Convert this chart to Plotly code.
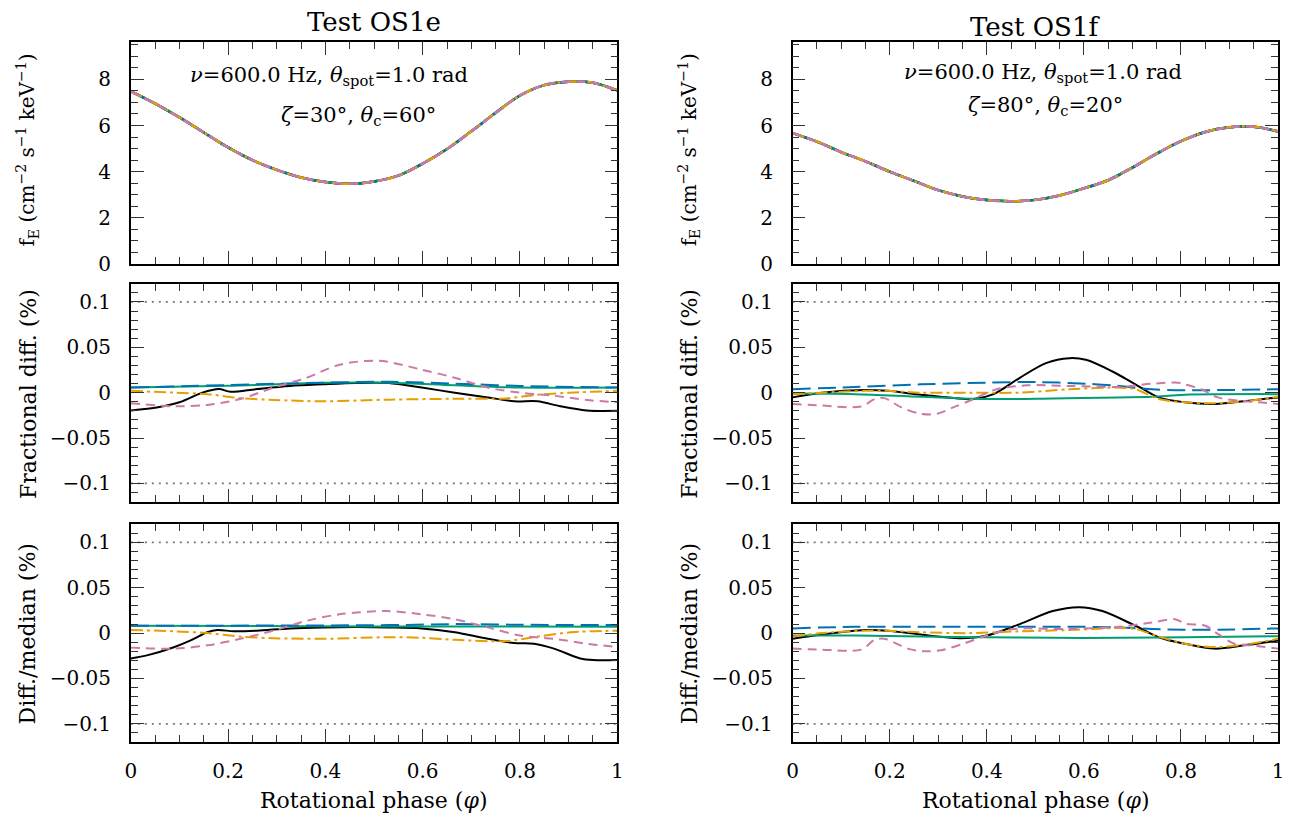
import plotly.graph_objects as go

# ---------------- data ----------------
PHASE_TOP = [0, 0.05, 0.1, 0.15, 0.2, 0.25, 0.3, 0.35, 0.4, 0.45, 0.5,
             0.55, 0.6, 0.65, 0.7, 0.75, 0.8, 0.85, 0.9, 0.95, 1.0]
FE_OS1E = [7.48, 6.95, 6.35, 5.7, 5.05, 4.5, 4.08, 3.75, 3.55, 3.48, 3.58,
           3.83, 4.35, 4.98, 5.75, 6.55, 7.3, 7.75, 7.9, 7.85, 7.52]
FE_OS1F = [5.67, 5.3, 4.85, 4.45, 4.0, 3.6, 3.2, 2.93, 2.77, 2.72, 2.78,
           2.97, 3.28, 3.63, 4.18, 4.78, 5.32, 5.72, 5.92, 5.95, 5.74]

# OS1e fractional diff (%)
E_FRAC_BLACK_X = [0, 0.056, 0.10, 0.147, 0.181, 0.205, 0.259, 0.327, 0.395, 0.463, 0.53, 0.598, 0.666, 0.734, 0.788, 0.836, 0.883, 0.937, 1.0]
E_FRAC_BLACK_Y = [-0.0196, -0.016, -0.0106, 0.0, 0.004, 0.001, 0.004, 0.0074, 0.0092, 0.0106, 0.0106, 0.0056, 0.0, -0.0052, -0.0095, -0.0095, -0.015, -0.0196, -0.020]
E_FRAC_GREEN_X = [0, 0.2, 0.4, 0.53, 0.666, 0.8, 1.0]
E_FRAC_GREEN_Y = [0.0056, 0.0075, 0.011, 0.011, 0.0081, 0.0056, 0.0056]
E_FRAC_BLUE_X = [0, 0.4, 0.53, 0.666, 0.8, 1.0]
E_FRAC_BLUE_Y = [0.0056, 0.011, 0.012, 0.0099, 0.0074, 0.0056]
E_FRAC_ORANGE_X = [0, 0.09, 0.157, 0.225, 0.293, 0.395, 0.53, 0.666, 0.77, 0.836, 0.904, 1.0]
E_FRAC_ORANGE_Y = [0.002, 0.0, -0.0016, -0.006, -0.008, -0.0095, -0.0077, -0.0067, -0.0063, -0.0023, 0.0, 0.002]
E_FRAC_PINK_X = [0, 0.09, 0.157, 0.225, 0.293, 0.361, 0.429, 0.51, 0.598, 0.666, 0.734, 0.80, 0.87, 0.937, 1.0]
E_FRAC_PINK_Y = [-0.0117, -0.015, -0.0135, -0.007, 0.0056, 0.0164, 0.0308, 0.0351, 0.0254, 0.0164, 0.0056, 0.0, -0.0034, -0.0081, -0.0106]

# OS1f fractional diff (%)
F_FRAC_BLACK_X = [0, 0.06, 0.148, 0.196, 0.264, 0.332, 0.373, 0.414, 0.468, 0.522, 0.57, 0.604, 0.658, 0.706, 0.754, 0.808, 0.863, 0.91, 1.0]
F_FRAC_BLACK_Y = [-0.0052, 0.0, 0.003, 0.002, -0.0023, -0.006, -0.007, -0.0016, 0.0164, 0.0326, 0.038, 0.0362, 0.0236, 0.0092, -0.0052, -0.0106, -0.0124, -0.0106, -0.0052]
F_FRAC_GREEN_X = [0, 0.128, 0.264, 0.4, 0.536, 0.672, 0.74, 0.808, 1.0]
F_FRAC_GREEN_Y = [-0.001, -0.0016, -0.0045, -0.007, -0.0063, -0.0052, -0.0045, -0.0023, -0.0016]
F_FRAC_BLUE_X = [0, 0.128, 0.264, 0.4, 0.502, 0.604, 0.672, 0.74, 0.808, 1.0]
F_FRAC_BLUE_Y = [0.0038, 0.0063, 0.0092, 0.011, 0.0117, 0.0099, 0.0074, 0.0038, 0.0027, 0.0038]
F_FRAC_ORANGE_X = [0, 0.06, 0.148, 0.196, 0.264, 0.366, 0.468, 0.57, 0.672, 0.706, 0.754, 0.808, 0.863, 0.944, 1.0]
F_FRAC_ORANGE_Y = [-0.0016, 0.0, 0.002, 0.002, 0.0, 0.0, 0.0, 0.0038, 0.0056, 0.0038, -0.007, -0.0106, -0.0117, -0.0088, -0.0045]
F_FRAC_PINK_X = [0, 0.06, 0.141, 0.169, 0.189, 0.223, 0.264, 0.298, 0.332, 0.373, 0.42, 0.482, 0.57, 0.672, 0.74, 0.795, 0.808, 0.842, 0.876, 0.944, 1.0]
F_FRAC_PINK_Y = [-0.0124, -0.0142, -0.0153, -0.007, -0.006, -0.016, -0.0232, -0.0232, -0.016, -0.007, 0.0038, 0.0081, 0.0074, 0.0063, 0.0099, 0.011, 0.0092, 0.0038, -0.0052, -0.0099, -0.0124]

# OS1e diff/median (%)
E_MED_BLACK_X = [0, 0.035, 0.09, 0.123, 0.157, 0.178, 0.212, 0.259, 0.327, 0.395, 0.463, 0.53, 0.598, 0.666, 0.734, 0.788, 0.829, 0.87, 0.924, 0.951, 1.0]
E_MED_BLACK_Y = [-0.0279, -0.0243, -0.0153, -0.0081, 0.0009, 0.0034, 0.002, 0.0027, 0.0052, 0.0063, 0.0067, 0.0063, 0.0052, 0.0009, -0.0063, -0.011, -0.0117, -0.0171, -0.0279, -0.0297, -0.0297]
E_MED_GREEN_X = [0, 0.5, 1.0]
E_MED_GREEN_Y = [0.0081, 0.0074, 0.007]
E_MED_BLUE_X = [0, 0.53, 0.666, 0.8, 1.0]
E_MED_BLUE_Y = [0.0081, 0.0088, 0.0099, 0.0092, 0.0088]
E_MED_ORANGE_X = [0, 0.09, 0.157, 0.225, 0.293, 0.395, 0.53, 0.598, 0.666, 0.77, 0.836, 0.904, 1.0]
E_MED_ORANGE_Y = [0.0034, 0.002, 0.0, -0.0038, -0.0056, -0.0063, -0.0045, -0.0052, -0.0074, -0.0088, -0.0038, 0.0009, 0.0027]
E_MED_PINK_X = [0, 0.09, 0.157, 0.225, 0.293, 0.361, 0.429, 0.524, 0.598, 0.666, 0.734, 0.80, 0.87, 0.937, 1.0]
E_MED_PINK_Y = [-0.016, -0.0171, -0.0135, -0.0063, 0.0027, 0.0135, 0.0207, 0.0243, 0.0207, 0.0153, 0.0063, -0.0027, -0.0063, -0.0117, -0.0153]

# OS1f diff/median (%)
F_MED_BLACK_X = [0, 0.06, 0.148, 0.196, 0.264, 0.345, 0.4, 0.468, 0.536, 0.59, 0.638, 0.706, 0.754, 0.808, 0.869, 0.93, 1.0]
F_MED_BLACK_Y = [-0.0063, -0.0016, 0.0034, 0.0027, -0.0016, -0.0056, -0.0027, 0.0099, 0.0243, 0.0286, 0.0243, 0.0081, -0.0045, -0.0117, -0.0171, -0.0135, -0.0081]
F_MED_GREEN_X = [0, 0.128, 0.264, 0.4, 0.536, 0.672, 0.808, 1.0]
F_MED_GREEN_Y = [-0.0027, -0.0027, -0.0038, -0.0045, -0.0052, -0.0052, -0.0045, -0.0034]
F_MED_BLUE_X = [0, 0.128, 0.264, 0.468, 0.57, 0.672, 0.74, 0.808, 0.876, 1.0]
F_MED_BLUE_Y = [0.0052, 0.007, 0.007, 0.007, 0.007, 0.0063, 0.0045, 0.0038, 0.0038, 0.0052]
F_MED_ORANGE_X = [0, 0.06, 0.148, 0.196, 0.264, 0.366, 0.468, 0.57, 0.672, 0.706, 0.754, 0.808, 0.869, 0.944, 1.0]
F_MED_ORANGE_Y = [-0.0038, 0.0, 0.0027, 0.0027, 0.0009, 0.0, 0.002, 0.0034, 0.0056, 0.0045, -0.0038, -0.0117, -0.0153, -0.0117, -0.0063]
F_MED_PINK_X = [0, 0.06, 0.141, 0.169, 0.189, 0.237, 0.27, 0.305, 0.352, 0.4, 0.455, 0.57, 0.672, 0.74, 0.788, 0.808, 0.85, 0.876, 0.91, 0.944, 1.0]
F_MED_PINK_Y = [-0.0171, -0.0182, -0.0182, -0.0074, -0.0063, -0.0171, -0.02, -0.0189, -0.0117, -0.0027, 0.0045, 0.0045, 0.007, 0.0117, 0.0153, 0.0106, 0.0081, -0.0009, -0.0117, -0.0135, -0.0171]

X_TICKS = [0, 0.2, 0.4, 0.6, 0.8, 1.0]
X_TICKTEXT = ["0", "0.2", "0.4", "0.6", "0.8", "1"]
TOP_TICKS = [0, 2, 4, 6, 8]
DIFF_TICKS = [-0.1, -0.05, 0, 0.05, 0.1]
DIFF_TICKTEXT = ["\u22120.1", "\u22120.05", "0", "0.05", "0.1"]
LIMIT_LINES = [-0.1, 0.1]

# ---------------- styles ----------------
W, H = 1291, 821
FONT = "DejaVu Serif"
STY = {
    "black": dict(color="#000000", width=2, dash="solid"),
    "green": dict(color="#009E73", width=2, dash="solid"),
    "blue": dict(color="#0072B2", width=2, dash="18px,7px"),
    "orange": dict(color="#E69F00", width=2, dash="12px,4px,3px,4px"),
    "pink": dict(color="#CC79A7", width=2, dash="9px,6px"),
}
ORDER = ["black", "green", "blue", "orange", "pink"]

XDOM = {0: [126 / W, 617 / W], 1: [794 / W, 1284 / W]}
YDOM = {0: [1 - 268 / H, 1 - 43 / H], 1: [1 - 509 / H, 1 - 288 / H], 2: [1 - 753 / H, 1 - 532 / H]}

fig = go.Figure()

series = {
    (0, 1): {"black": (E_FRAC_BLACK_X, E_FRAC_BLACK_Y), "green": (E_FRAC_GREEN_X, E_FRAC_GREEN_Y),
             "blue": (E_FRAC_BLUE_X, E_FRAC_BLUE_Y), "orange": (E_FRAC_ORANGE_X, E_FRAC_ORANGE_Y),
             "pink": (E_FRAC_PINK_X, E_FRAC_PINK_Y)},
    (0, 2): {"black": (E_MED_BLACK_X, E_MED_BLACK_Y), "green": (E_MED_GREEN_X, E_MED_GREEN_Y),
             "blue": (E_MED_BLUE_X, E_MED_BLUE_Y), "orange": (E_MED_ORANGE_X, E_MED_ORANGE_Y),
             "pink": (E_MED_PINK_X, E_MED_PINK_Y)},
    (1, 1): {"black": (F_FRAC_BLACK_X, F_FRAC_BLACK_Y), "green": (F_FRAC_GREEN_X, F_FRAC_GREEN_Y),
             "blue": (F_FRAC_BLUE_X, F_FRAC_BLUE_Y), "orange": (F_FRAC_ORANGE_X, F_FRAC_ORANGE_Y),
             "pink": (F_FRAC_PINK_X, F_FRAC_PINK_Y)},
    (1, 2): {"black": (F_MED_BLACK_X, F_MED_BLACK_Y), "green": (F_MED_GREEN_X, F_MED_GREEN_Y),
             "blue": (F_MED_BLUE_X, F_MED_BLUE_Y), "orange": (F_MED_ORANGE_X, F_MED_ORANGE_Y),
             "pink": (F_MED_PINK_X, F_MED_PINK_Y)},
}

tickfont = dict(family=FONT, size=20, color="black")


def axis_base():
    return dict(showline=True, linecolor="black", linewidth=1.5, mirror="allticks",
                ticks="inside", ticklen=13, tickwidth=1.3, tickcolor="#333",
                showgrid=False, zeroline=False, tickfont=tickfont, ticklabelstandoff=14,
                minor=dict(ticks="inside", ticklen=7, tickwidth=1.2, tickcolor="#333", showgrid=False))


layout_axes = {}
k = 0
for col in (0, 1):
    for row in (0, 1, 2):
        k += 1
        xa = "x" if k == 1 else f"x{k}"
        ya = "y" if k == 1 else f"y{k}"
        xname = "xaxis" if k == 1 else f"xaxis{k}"
        yname = "yaxis" if k == 1 else f"yaxis{k}"
        xd = axis_base()
        xd.update(domain=XDOM[col], range=[0, 1], anchor=ya, tickvals=X_TICKS, ticktext=X_TICKTEXT,
                  showticklabels=(row == 2), ticklabelstandoff=10)
        xd["minor"].update(dtick=0.05, tick0=0)
        yd = axis_base()
        yd.update(domain=YDOM[row], anchor=xa)
        if row == 0:
            yd.update(range=[0, 9.6], tickvals=TOP_TICKS)
            yd["minor"].update(dtick=0.5, tick0=0)
            fe = FE_OS1E if col == 0 else FE_OS1F
            for name in ORDER:
                st = dict(STY[name])
                st["width"] = 2.5
                fig.add_trace(go.Scatter(x=PHASE_TOP, y=fe, mode="lines", xaxis=xa, yaxis=ya,
                                         line=dict(shape="spline", **st), showlegend=False,
                                         hoverinfo="skip"))
        else:
            yd.update(range=[-0.12, 0.12], tickvals=DIFF_TICKS, ticktext=DIFF_TICKTEXT)
            yd["minor"].update(dtick=0.01, tick0=0)
            for lv in LIMIT_LINES:
                fig.add_trace(go.Scatter(x=[0, 1], y=[lv, lv], mode="lines", xaxis=xa, yaxis=ya,
                                         line=dict(color="#777", width=1.8, dash="2px,5px"),
                                         showlegend=False, hoverinfo="skip"))
            for name in ORDER:
                xs, ys = series[(col, row)][name]
                fig.add_trace(go.Scatter(x=xs, y=ys, mode="lines", xaxis=xa, yaxis=ya,
                                         line=dict(shape="spline", smoothing=0.9, **STY[name]),
                                         showlegend=False, hoverinfo="skip"))
        layout_axes[xname] = xd
        layout_axes[yname] = yd

ann = []


def px(xp, yp, text, size=20, angle=0):
    ann.append(dict(x=xp / W, y=1 - yp / H, xref="paper", yref="paper", text=text, showarrow=False,
                    textangle=angle, font=dict(family=FONT, size=size, color="black"),
                    xanchor="center", yanchor="middle"))


px(371, 22, "Test OS1e", 26)
px(1039, 27, "Test OS1f", 26)
px(326, 77, "<i>ν</i>=600.0 Hz, <i>θ</i><sub>spot</sub>=1.0 rad", 21)
px(356, 118, "<i>ζ</i>=30°, <i>θ</i><sub>c</sub>=60°", 21)
px(1047, 74, "<i>ν</i>=600.0 Hz, <i>θ</i><sub>spot</sub>=1.0 rad", 21)
px(1049, 108, "<i>ζ</i>=80°, <i>θ</i><sub>c</sub>=20°", 21)
for xc in (22, 690):
    px(xc, 152, "f<sub>E</sub> (cm<sup>−2</sup> s<sup>−1</sup> keV<sup>−1</sup>)", 20, -90)
    px(xc, 400, "Fractional diff. (%)", 22, -90)
    px(xc, 643, "Diff./median (%)", 22, -90)
px(371, 812, "Rotational phase (<i>φ</i>)", 22)
px(1039, 812, "Rotational phase (<i>φ</i>)", 22)

fig.update_layout(width=W, height=H, margin=dict(l=0, r=0, t=0, b=0),
                  paper_bgcolor="white", plot_bgcolor="white", annotations=ann,
                  showlegend=False, **layout_axes)

fig.write_html("out.html")
